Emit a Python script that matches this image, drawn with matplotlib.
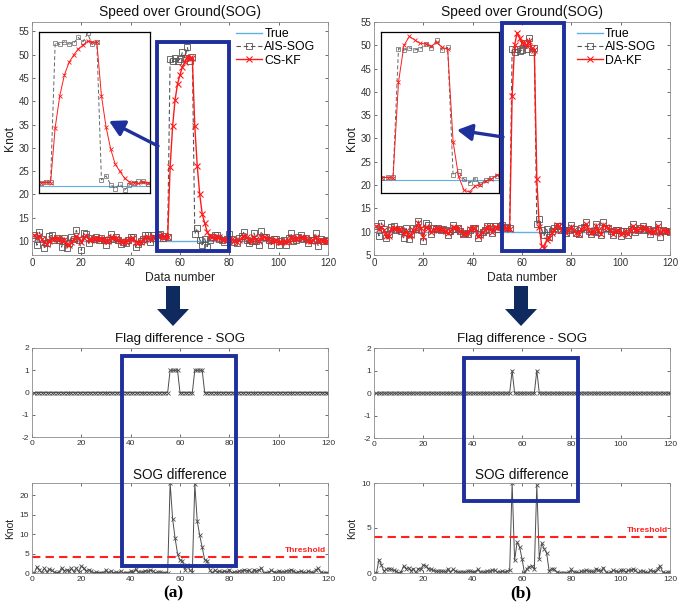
import numpy as np
import matplotlib
matplotlib.use('Agg')
import matplotlib.pyplot as plt
from matplotlib.patches import Rectangle, Polygon, FancyArrowPatch

plt.rcParams['font.family'] = ['Liberation Sans', 'DejaVu Sans']
plt.rcParams['axes.unicode_minus'] = False

# ---------------- data ----------------
data_number = np.arange(1, 121)
true_sog = [10.0] * 120
ais_sog = [
    11.2, 9.1, 11.9, 10.5, 8.6, 9.5, 11.0, 11.2, 10.3, 10.6,
    10.2, 8.7, 10.7, 8.4, 9.5, 10.9, 10.5, 12.3, 10.3, 8.0,
    11.8, 11.4, 9.5, 10.7, 10.5, 10.8, 10.3, 10.6, 10.3, 9.2,
    10.2, 11.4, 10.5, 10.9, 10.2, 9.4, 9.8, 9.6, 10.3, 10.9,
    10.8, 8.7, 9.4, 10.0, 10.4, 11.3, 11.3, 9.7, 11.3, 10.6,
    11.2, 11.5, 10.7, 11.0, 10.9, 49.1, 48.6, 49.3, 48.7, 49.0,
    50.5, 49.3, 51.6, 48.6, 49.4, 11.6, 12.7, 10.3, 9.2, 10.5,
    8.8, 10.2, 10.8, 11.3, 11.2, 10.4, 10.3, 9.8, 10.4, 11.4,
    10.5, 9.8, 9.6, 10.7, 11.1, 12.0, 10.2, 9.5, 10.1, 11.7,
    10.0, 9.2, 12.1, 10.9, 10.8, 10.2, 9.2, 10.4, 10.4, 9.1,
    10.1, 10.2, 9.2, 10.6, 11.7, 10.0, 10.3, 10.9, 11.2, 10.4,
    10.6, 9.6, 10.2, 10.3, 11.7, 8.9, 10.4, 10.1, 10.2, 9.9]
cs_kf = [
    11.3, 10.7, 11.1, 10.4, 9.8, 9.3, 10.0, 10.5, 10.5, 10.7,
    10.4, 10.1, 10.2, 9.3, 9.1, 9.7, 10.2, 11.0, 10.6, 9.8,
    10.6, 11.0, 10.4, 10.3, 10.5, 10.6, 10.4, 10.5, 10.4, 10.0,
    10.1, 10.8, 10.6, 10.7, 10.3, 9.9, 9.8, 9.7, 10.2, 10.5,
    10.6, 9.7, 9.6, 9.8, 10.2, 10.7, 10.9, 10.4, 10.8, 10.7,
    11.0, 11.2, 10.8, 10.9, 10.8, 25.9, 34.6, 40.3, 43.7, 45.7,
    47.4, 48.4, 49.5, 49.3, 49.2, 34.6, 26.0, 20.0, 15.8, 13.9,
    12.0, 11.1, 10.8, 10.6, 10.9, 10.8, 10.5, 10.3, 10.2, 10.5,
    10.4, 10.0, 9.8, 10.2, 10.6, 11.1, 10.8, 10.2, 10.1, 10.8,
    10.5, 9.9, 10.8, 10.9, 10.7, 10.4, 9.9, 10.1, 10.3, 9.7,
    9.8, 10.0, 9.7, 10.1, 10.8, 10.5, 10.4, 10.6, 10.8, 10.6,
    10.6, 10.1, 10.0, 10.2, 10.9, 10.1, 10.2, 10.1, 10.1, 10.0]
da_kf = [
    11.2, 10.6, 11.0, 10.3, 9.0, 9.0, 10.6, 10.9, 10.5, 10.6,
    10.3, 9.5, 10.2, 9.0, 9.3, 10.4, 10.5, 11.8, 10.7, 8.9,
    11.0, 10.9, 9.9, 10.4, 10.7, 10.6, 10.5, 10.4, 10.2, 9.7,
    10.1, 11.0, 10.7, 10.8, 10.1, 9.5, 9.7, 9.8, 10.5, 10.8,
    10.7, 9.1, 9.3, 9.9, 10.3, 11.1, 11.1, 10.0, 11.0, 10.7,
    11.1, 11.3, 10.8, 10.8, 10.6, 39.1, 50.0, 52.7, 51.6, 50.6,
    50.5, 49.8, 50.9, 49.4, 49.0, 21.4, 11.1, 7.0, 6.5, 8.3,
    8.6, 9.7, 10.4, 11.4, 11.2, 10.4, 10.3, 9.8, 10.3, 11.0,
    10.4, 9.7, 9.6, 10.5, 10.9, 11.7, 10.4, 9.7, 10.0, 11.2,
    10.3, 9.4, 11.5, 11.0, 10.8, 10.3, 9.5, 10.2, 10.3, 9.4,
    9.8, 10.1, 9.5, 10.3, 11.3, 10.3, 10.3, 10.7, 11.0, 10.5,
    10.6, 9.9, 10.0, 10.2, 11.2, 9.7, 10.3, 10.1, 10.1, 10.0]
threshold = 4.0
x_ticks = [0, 20, 40, 60, 80, 100, 120]

# SOG difference and flag derived from the series
diff_a = np.abs(np.array(ais_sog) - np.array(cs_kf))
diff_b = np.abs(np.array(ais_sog) - np.array(da_kf))
flag_a = (diff_a > threshold).astype(float)
flag_b = (diff_b > threshold).astype(float)

# ---------------- style ----------------
C_TRUE = '#62b0e0'
C_AIS = '#555555'
C_KF = '#ff1a1a'
C_GRAY = '#4d4d4d'
BLUE = '#1f2f9c'
NAVY = '#0f2a5e'

W, H = 680, 608
fig = plt.figure(figsize=(6.8, 6.08), dpi=100)


def ax_px(l, t, r, b, **kw):
    return fig.add_axes([l / W, 1 - b / H, (r - l) / W, (b - t) / H], **kw)


def fx(x):
    return x / W


def fy(y):
    return 1 - y / H


def matlab_style(ax, labelsize):
    ax.tick_params(direction='in', top=True, right=True, length=2.5, width=0.5,
                   colors='#333333', labelsize=labelsize, pad=2)
    for s in ax.spines.values():
        s.set_color('#8c8c8c')
        s.set_linewidth(0.6)


# ---------------- top panels ----------------
top_specs = [
    dict(box=(32, 22, 328, 255), kf=cs_kf, label='CS-KF', ylim=(7, 57),
         yticks=range(10, 56, 5), leg=(0.69, 0.975),
         inset=(39, 32, 150, 193), ixlim=(52.5, 76.5), iylim=(8, 52)),
    dict(box=(374, 22, 670, 255), kf=da_kf, label='DA-KF', ylim=(5, 55),
         yticks=range(5, 56, 5), leg=(0.686, 0.975),
         inset=(381, 32, 499, 193), ixlim=(52.8, 74.4), iylim=(6.2, 54)),
]
for sp in top_specs:
    ax = ax_px(*sp['box'])
    matlab_style(ax, 7)
    ax.plot(data_number, true_sog, color=C_TRUE, lw=1.0, label='True')
    ax.plot(data_number, ais_sog, color=C_AIS, lw=0.8, ls='--', dashes=(4, 2.5),
            marker='s', ms=4.2, mfc='none', mew=0.6, label='AIS-SOG')
    ax.plot(data_number, sp['kf'], color=C_KF, lw=1.0, marker='x', ms=3.8,
            mew=0.8, label=sp['label'])
    ax.set_xlim(0, 120)
    ax.set_ylim(*sp['ylim'])
    ax.set_xticks(x_ticks)
    ax.set_yticks(list(sp['yticks']))
    ax.set_title('Speed over Ground(SOG)', fontsize=10, pad=4, color='#111111')
    ax.set_xlabel('Data number', fontsize=8.7, labelpad=3, color='#222222')
    ax.set_ylabel('Knot', fontsize=8.7, labelpad=2, color='#222222')
    ax.legend(loc='upper left', bbox_to_anchor=sp['leg'], frameon=False,
              fontsize=8.8, handlelength=2.1, handletextpad=0.2,
              labelspacing=0.12, borderaxespad=0, borderpad=0)

    ins = ax_px(*sp['inset'], zorder=3)
    ins.set_facecolor('white')
    ins.plot(data_number, true_sog, color=C_TRUE, lw=0.8)
    ins.plot(data_number, ais_sog, color='#666666', lw=0.7, ls='--',
             dashes=(4, 2.5), marker='s', ms=2.4, mfc='none', mew=0.5)
    ins.plot(data_number, sp['kf'], color=C_KF, lw=0.7, marker='x', ms=2.2,
             mew=0.6)
    ins.set_xlim(*sp['ixlim'])
    ins.set_ylim(*sp['iylim'])
    ins.set_xticks([])
    ins.set_yticks([])
    for s in ins.spines.values():
        s.set_color('black')
        s.set_linewidth(0.9)

# ---------------- bottom panels ----------------
bot_specs = [
    dict(flag_box=(32, 348, 328, 437), diff_box=(32, 483, 328, 573),
         flag=flag_a, diff=diff_a, dyticks=[0, 5, 10, 15, 20],
         dylim=(0, float(diff_a.max()))),
    dict(flag_box=(374, 348, 670, 438), diff_box=(374, 483, 670, 573),
         flag=flag_b, diff=diff_b, dyticks=[0, 5, 10],
         dylim=(0, float(diff_b.max()))),
]
for sp in bot_specs:
    af = ax_px(*sp['flag_box'])
    matlab_style(af, 6)
    af.plot(data_number, sp['flag'], color=C_GRAY, lw=0.7, marker='x', ms=3,
            mew=0.6)
    af.set_xlim(0, 120)
    af.set_ylim(-2, 2)
    af.set_xticks(x_ticks)
    af.set_yticks([-2, -1, 0, 1, 2])
    af.set_title('Flag difference - SOG', fontsize=9.6, pad=4, color='#111111')

    ad = ax_px(*sp['diff_box'])
    matlab_style(ad, 6)
    ad.plot(data_number, sp['diff'], color=C_GRAY, lw=0.7, marker='x', ms=3.2,
            mew=0.6)
    ad.axhline(threshold, color='#ff2020', lw=1.5, ls='--', dashes=(4, 2.5))
    ad.text(119, threshold + 0.035 * (sp['dylim'][1]), 'Threshold', color='#ff2020',
            fontsize=6, fontweight='bold', ha='right', va='bottom')
    ad.set_xlim(0, 120)
    ad.set_ylim(*sp['dylim'])
    ad.set_xticks(x_ticks)
    ad.set_yticks(sp['dyticks'])
    ad.set_title('SOG difference', fontsize=9.8, pad=3, color='#111111')
    ad.set_ylabel('Knot', fontsize=7.5, labelpad=3, color='#222222')

# ---------------- annotations ----------------
rects_px = [(157, 42, 229, 251), (502, 23, 564, 251),
            (122, 356, 236, 566), (464, 358, 578, 501)]
for (l, t, r, b) in rects_px:
    fig.add_artist(Rectangle((fx(l), fy(b)), fx(r) - fx(l), fy(t) - fy(b),
                             transform=fig.transFigure, fill=False, ec=BLUE,
                             lw=2.8, zorder=10))

arrows_px = [((158, 146), (109, 121)), ((503, 137), (457, 130))]
for (p0, p1) in arrows_px:
    fig.add_artist(FancyArrowPatch((fx(p0[0]), fy(p0[1])), (fx(p1[0]), fy(p1[1])),
                                   transform=fig.transFigure,
                                   arrowstyle='-|>,head_length=0.9,head_width=0.5',
                                   mutation_scale=10, lw=2.4, color=BLUE,
                                   shrinkA=0, shrinkB=0, zorder=11))

for cx in (173, 521):
    verts = [(cx - 7, 286), (cx + 7, 286), (cx + 7, 309), (cx + 16, 309),
             (cx, 326), (cx - 16, 309), (cx - 7, 309)]
    fig.add_artist(Polygon([(fx(x), fy(y)) for x, y in verts], closed=True,
                           transform=fig.transFigure, fc=NAVY, ec='none',
                           zorder=10))

for cx, lab in ((173, '(a)'), (521, '(b)')):
    fig.text(fx(cx), fy(593), lab, ha='center', va='center', fontsize=12.5,
             fontweight='bold', family=['Liberation Serif', 'DejaVu Serif'])

fig.savefig('out.png', dpi=100)
